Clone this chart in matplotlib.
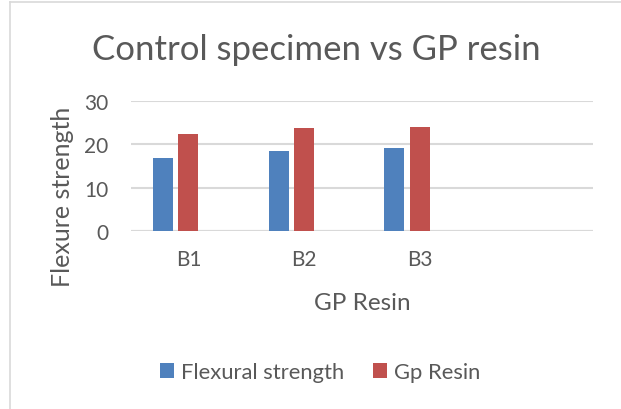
import numpy as np
import matplotlib.pyplot as plt
from matplotlib.lines import Line2D

# values
categories = ["B1", "B2", "B3", ""]
flexural = [16.8, 18.5, 19.2, np.nan]
gp_resin = [22.3, 23.7, 24.0, np.nan]
y_ticks = [0, 10, 20, 30]

text_col = "#595959"
grid_col = "#D9D9D9"
font = "Lato"

fig = plt.figure(figsize=(6.21, 4.10), dpi=100)
ax = fig.add_axes([130.7 / 621, 1 - 232.3 / 410, (593 - 130.7) / 621, (232.3 - 101.7) / 410])

x = np.arange(len(categories))
w = 0.173
step = 0.221
ax.bar(x - step, flexural, width=w, color="#4F81BD", label="Flexural strength", zorder=3)
ax.bar(x, gp_resin, width=w, color="#C0504D", label="Gp Resin", zorder=3)

ax.set_xlim(-0.5, len(categories) - 0.5)
ax.set_ylim(0, 30)
ax.set_yticks(y_ticks)
ax.set_xticks(x + 0.0)
ax.set_xticklabels(categories)
for s in ["top", "right", "left", "bottom"]:
    ax.spines[s].set_visible(False)
ax.yaxis.grid(True, color=grid_col, linewidth=1.5, zorder=0)
ax.set_axisbelow(True)
ax.axhline(0, color=grid_col, linewidth=1.5, zorder=1)
ax.tick_params(axis="both", length=0, labelsize=15, labelcolor=text_col)
ax.tick_params(axis="y", pad=16)
ax.tick_params(axis="x", pad=13)
for lab in ax.get_xticklabels() + ax.get_yticklabels():
    lab.set_fontfamily(font)

ax.set_xlabel("GP Resin", fontsize=17.5, color=text_col, family=font, va="center")
ax.xaxis.set_label_coords(0.5, (232.3 - 303) / 130.6)

# y axis title placed in figure pixels
fig.text(62 / 621, 1 - 197 / 410, "Flexure strength", rotation=90, ha="center", va="center",
         fontsize=18, color=text_col, family=font)

fig.text(316 / 621, 1 - 50 / 410, "Control specimen vs GP resin", ha="center", va="center",
         fontsize=25, color=text_col, family=font)

leg = fig.legend(loc="center", bbox_to_anchor=(320 / 621, 1 - 373 / 410), ncol=2, frameon=False,
                 prop={"family": font, "size": 15.8}, handlelength=0.66, handleheight=0.66,
                 handletextpad=0.3, columnspacing=1.3, labelcolor=text_col)

# chart area border (top and left visible)
fig.add_artist(Line2D([10 / 621, 10 / 621], [0, 1 - 3 / 410], transform=fig.transFigure, color=grid_col, lw=1.2))
fig.add_artist(Line2D([10 / 621, 1], [1 - 3 / 410, 1 - 3 / 410], transform=fig.transFigure, color=grid_col, lw=1.2))

fig.savefig("out.png", dpi=100)
